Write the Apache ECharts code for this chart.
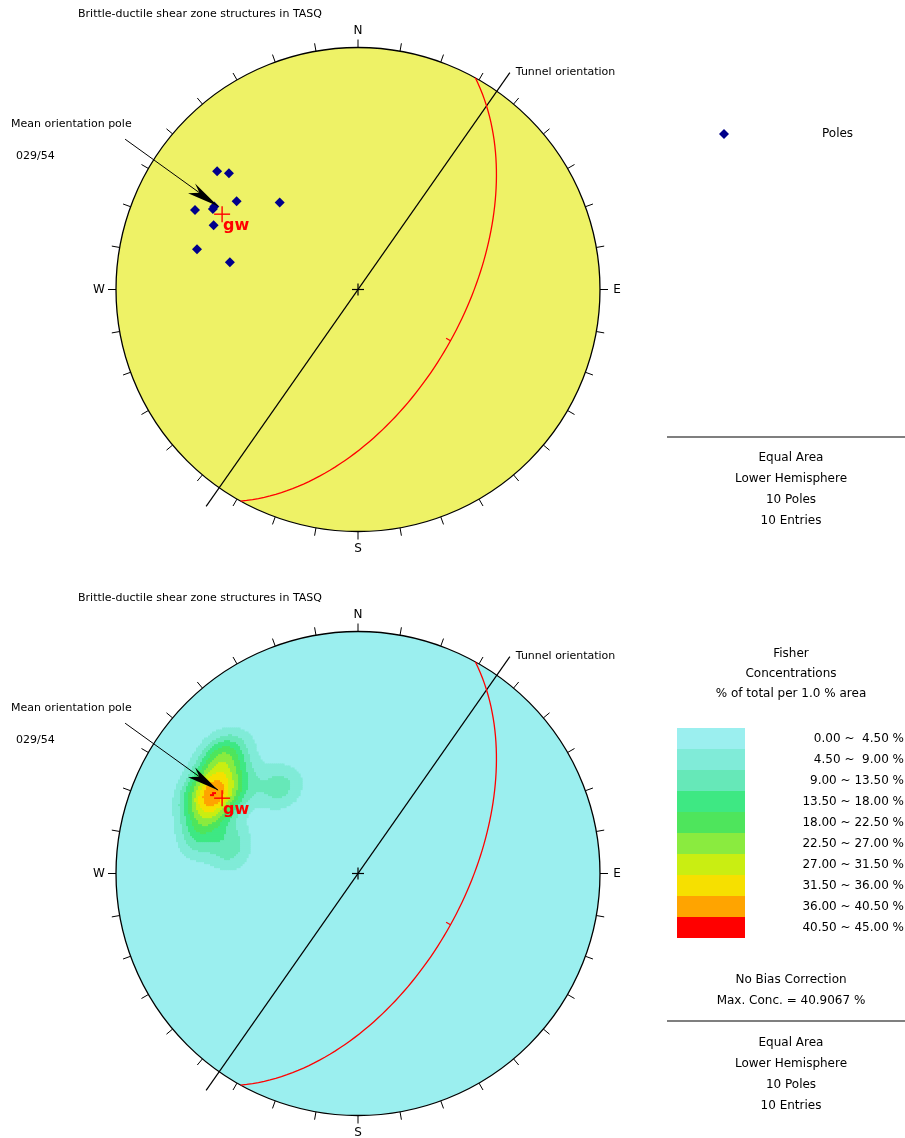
<!DOCTYPE html>
<html>
<head>
<meta charset="utf-8">
<script src="https://cdn.jsdelivr.net/npm/echarts@6/dist/echarts.min.js"></script>
<style>
html, body { margin: 0; padding: 0; background: #fff; }
#chart { width: 905px; height: 1138px; }
</style>
</head>
<body>
<div id="chart"></div>
<script>
// pole orientations, trend / plunge in degrees
var poleTrend = [310, 312, 306, 318, 296, 299, 300, 294, 284, 282];
var polePlunge = [25, 29, 38, 50, 26, 32, 32, 35, 32, 45];
var meanPole = [299, 36];       // pole of the mean plane
var meanPlane = [29, 54];       // strike (right hand) / dip
var meanLabel = "029/54";
var tunnelTrend = 35;
var compassLabels = ["N", "E", "S", "W"];
var concBreaks = [0, 4.5, 9, 13.5, 18, 22.5, 27, 31.5, 36, 40.5, 45];
var concColors = ["#9befef", "#80ebd8", "#66e8b8", "#3ee883", "#4ee55c",
  "#8aeb3f", "#c9ee12", "#f6e000", "#ffa400", "#ff0000"];
var infoLines = ["Equal Area", "Lower Hemisphere", "10 Poles", "10 Entries"];
var fisherK = 110;

var D2R = Math.PI / 180;
var FONT = "DejaVu Sans";
var title = "Brittle-ductile shear zone structures in TASQ";

// equal area, lower hemisphere, unit radius
function project(trend, plunge) {
  var r = Math.SQRT2 * Math.sin((90 - plunge) * D2R / 2);
  return [r * Math.sin(trend * D2R), r * Math.cos(trend * D2R)];
}
function vec(trend, plunge) {
  var t = trend * D2R, p = plunge * D2R;
  return [Math.cos(p) * Math.cos(t), Math.cos(p) * Math.sin(t), Math.sin(p)];
}
function greatCircle(strike, dip) {
  var s = strike * D2R, d = dip * D2R, dd = s + Math.PI / 2;
  var pts = [];
  for (var a = 0; a <= 180; a += 2) {
    var ca = Math.cos(a * D2R), sa = Math.sin(a * D2R);
    var n = ca * Math.cos(s) + sa * Math.cos(d) * Math.cos(dd);
    var e = ca * Math.sin(s) + sa * Math.cos(d) * Math.sin(dd);
    var dn = Math.min(1, sa * Math.sin(d));
    pts.push(project(Math.atan2(e, n) / D2R, Math.asin(dn) / D2R));
  }
  return pts;
}

var poleXY = poleTrend.map(function (t, i) { return project(t, polePlunge[i]); });
var poleVec = poleTrend.map(function (t, i) { return vec(t, polePlunge[i]); });
var meanXY = project(meanPole[0], meanPole[1]);
var gcXY = greatCircle(meanPlane[0], meanPlane[1]);

// fisher density, % of total per 1% area
var cell = 2 / 242;
var density = [];
for (var y = -1 + cell / 2; y < 1; y += cell) {
  for (var x = -1 + cell / 2; x < 1; x += cell) {
    var r = Math.sqrt(x * x + y * y);
    if (r > 1) continue;
    var pl = 90 - 2 * Math.asin(r / Math.SQRT2) / D2R;
    var v = vec(Math.atan2(x, y) / D2R, pl);
    var sum = 0;
    for (var i = 0; i < poleVec.length; i++) {
      var c = Math.abs(v[0] * poleVec[i][0] + v[1] * poleVec[i][1] + v[2] * poleVec[i][2]);
      sum += Math.exp(fisherK * (c - 1));
    }
    var val = fisherK / poleVec.length * sum;
    if (val >= concBreaks[1]) density.push([x, y, Math.min(val, 44.9)]);
  }
}

var tickAz = [];
for (var a = 0; a < 360; a += 10) tickAz.push(a);

function netSeries(g, fill) {
  return [
    {
      type: "custom", xAxisIndex: g, yAxisIndex: g, z: 1, silent: true,
      data: [[0, 0]],
      renderItem: function (params, api) {
        var c = api.coord([0, 0]);
        var r = api.size([1, 1])[0];
        return { type: "circle", shape: { cx: c[0], cy: c[1], r: r },
          style: { fill: fill, stroke: "#000", lineWidth: 1.3 } };
      }
    },
    {
      type: "custom", xAxisIndex: g, yAxisIndex: g, z: 5, silent: true,
      data: tickAz,
      renderItem: function (params, api) {
        var az = api.value(0) * D2R;
        var p = api.coord([Math.sin(az), Math.cos(az)]);
        var ux = Math.sin(az), uy = -Math.cos(az);
        var kids = [{ type: "line", shape: { x1: p[0], y1: p[1], x2: p[0] + ux * 8, y2: p[1] + uy * 8 },
          style: { stroke: "#000", lineWidth: 1 } }];
        if (api.value(0) % 90 === 0) {
          kids.push({ type: "text", style: { text: compassLabels[api.value(0) / 90],
            x: p[0] + ux * 17, y: p[1] + uy * 17, align: "center", verticalAlign: "middle",
            font: "12px " + FONT, fill: "#000" } });
        }
        return { type: "group", children: kids };
      }
    },
    {
      type: "custom", xAxisIndex: g, yAxisIndex: g, z: 6, silent: true,
      data: [[tunnelTrend]],
      renderItem: function (params, api) {
        var t = api.value(0) * D2R, L = 1.094;
        var a = api.coord([L * Math.sin(t), L * Math.cos(t)]);
        var b = api.coord([-L * Math.sin(t), -L * Math.cos(t)]);
        var c = api.coord([0, 0]);
        return { type: "group", children: [
          { type: "line", shape: { x1: a[0], y1: a[1], x2: b[0], y2: b[1] }, style: { stroke: "#000", lineWidth: 1.2 } },
          { type: "line", shape: { x1: c[0] - 6, y1: c[1], x2: c[0] + 6, y2: c[1] }, style: { stroke: "#000", lineWidth: 1.2 } },
          { type: "line", shape: { x1: c[0], y1: c[1] - 6, x2: c[0], y2: c[1] + 6 }, style: { stroke: "#000", lineWidth: 1.2 } },
          { type: "text", style: { text: "Tunnel orientation", x: a[0] + 6, y: a[1], verticalAlign: "middle",
            font: "11px " + FONT, fill: "#000" } }
        ] };
      }
    },
    {
      type: "custom", xAxisIndex: g, yAxisIndex: g, z: 6, silent: true,
      data: [meanPlane],
      renderItem: function (params, api) {
        var pts = gcXY.map(function (q) { return api.coord(q); });
        var dd = (api.value(0) + 90) * D2R;
        var rr = Math.SQRT2 * Math.sin((90 - api.value(1)) * D2R / 2);
        var apex = api.coord([rr * Math.sin(dd), rr * Math.cos(dd)]);
        return { type: "group", children: [
          { type: "polyline", shape: { points: pts }, style: { stroke: "#ff0000", lineWidth: 1.3, fill: null } },
          { type: "line", shape: { x1: apex[0], y1: apex[1], x2: apex[0] - 5 * Math.sin(dd), y2: apex[1] + 5 * Math.cos(dd) },
            style: { stroke: "#ff0000", lineWidth: 1.2 } }
        ] };
      }
    },
    {
      type: "custom", xAxisIndex: g, yAxisIndex: g, z: 8, silent: true,
      data: [meanXY],
      renderItem: function (params, api) {
        var p = api.coord([api.value(0), api.value(1)]);
        var tip = [p[0] - 4, p[1] - 8], st = [p[0] - 97, p[1] - 75];
        var dx = tip[0] - st[0], dy = tip[1] - st[1], len = Math.sqrt(dx * dx + dy * dy);
        var ux = dx / len, uy = dy / len, nx = -uy, ny = ux;
        var bx = tip[0] - 32 * ux, by = tip[1] - 32 * uy;
        return { type: "group", children: [
          { type: "line", shape: { x1: st[0], y1: st[1], x2: tip[0], y2: tip[1] }, style: { stroke: "#000", lineWidth: 1 } },
          { type: "polygon", shape: { points: [tip, [bx + 7 * nx, by + 7 * ny], [bx + 9 * ux, by + 9 * uy], [bx - 5 * nx, by - 5 * ny]] },
            style: { fill: "#000" } },
          { type: "line", shape: { x1: p[0] - 8, y1: p[1], x2: p[0] + 8, y2: p[1] }, style: { stroke: "#ff0000", lineWidth: 1.4 } },
          { type: "line", shape: { x1: p[0], y1: p[1] - 8, x2: p[0], y2: p[1] + 8 }, style: { stroke: "#ff0000", lineWidth: 1.4 } },
          { type: "text", style: { text: "gw", x: p[0] + 1, y: p[1] + 12, verticalAlign: "middle",
            font: "bold 16px " + FONT, fill: "#ff0000" } }
        ] };
      }
    }
  ];
}

var series = [];
series = series.concat(netSeries(0, "#eef266"));
series = series.concat(netSeries(1, "#9befef"));
series.push({
  name: "Poles", type: "scatter", xAxisIndex: 0, yAxisIndex: 0, z: 7,
  symbol: "diamond", symbolSize: 10, itemStyle: { color: "#00008b", opacity: 1 },
  data: poleXY
});
series.push({
  name: "density", type: "custom", xAxisIndex: 1, yAxisIndex: 1, z: 2, silent: true,
  data: density,
  renderItem: function (params, api) {
    var p = api.coord([api.value(0) - cell / 2, api.value(1) + cell / 2]);
    var s = api.size([cell, cell]);
    return { type: "rect", shape: { x: p[0], y: p[1], width: s[0] + 0.6, height: s[1] + 0.6 },
      style: { fill: api.visual("color") } };
  }
});
var densityIndex = series.length - 1;

var axisHidden = { type: "value", min: -1, max: 1, show: false };

var graphics = [];
function txt(t, x, y, opt) {
  opt = opt || {};
  graphics.push({ type: "text", x: x, y: y, silent: true, style: { text: t,
    font: (opt.size || 12) + "px " + FONT, fill: "#000",
    align: opt.align || "left", verticalAlign: "middle" } });
}
function hline(y) {
  graphics.push({ type: "line", silent: true, shape: { x1: 667, y1: y, x2: 905, y2: y },
    style: { stroke: "#000", lineWidth: 1.2 } });
}
[0, 584].forEach(function (off) {
  txt(title, 78, 14 + off, { size: 11 });
  txt("Mean orientation pole", 11, 124 + off, { size: 11 });
  txt(meanLabel, 16, 156 + off, { size: 11 });
});
hline(437);
infoLines.forEach(function (s, i) { txt(s, 791, 458 + 21 * i, { align: "center" }); });
txt("Fisher", 791, 654, { align: "center" });
txt("Concentrations", 791, 674, { align: "center" });
txt("% of total per 1.0 % area", 791, 694, { align: "center" });
for (var k = 0; k < concColors.length; k++) {
  var hi = concBreaks[k + 1].toFixed(2);
  if (hi.length < 5) hi = " " + hi;
  txt(concBreaks[k].toFixed(2) + " ~ " + hi + " %", 904, 739 + 21 * k, { align: "right" });
}
txt("No Bias Correction", 791, 980, { align: "center" });
txt("Max. Conc. = 40.9067 %", 791, 1001, { align: "center" });
hline(1021);
infoLines.forEach(function (s, i) { txt(s, 791, 1043 + 21 * i, { align: "center" }); });

var myChart = echarts.init(document.getElementById("chart"));
var option = {
  animation: false,
  grid: [
    { left: 116, top: 47.5, width: 484, height: 484 },
    { left: 116, top: 631.5, width: 484, height: 484 }
  ],
  xAxis: [Object.assign({ gridIndex: 0 }, axisHidden), Object.assign({ gridIndex: 1 }, axisHidden)],
  yAxis: [Object.assign({ gridIndex: 0 }, axisHidden), Object.assign({ gridIndex: 1 }, axisHidden)],
  legend: {
    data: [{ name: "Poles", icon: "diamond" }],
    left: 719, top: 128, itemWidth: 10, itemHeight: 10, padding: 0,
    selectedMode: false,
    textStyle: { fontFamily: FONT, fontSize: 12, color: "#000", padding: [0, 0, 0, 88] }
  },
  visualMap: {
    type: "piecewise", seriesIndex: densityIndex, dimension: 2,
    pieces: concColors.map(function (c, i) {
      return { gte: concBreaks[i], lt: concBreaks[i + 1], color: c };
    }),
    orient: "vertical", inverse: true, left: 677, top: 728, padding: 0,
    itemWidth: 68, itemHeight: 21, itemGap: 0, itemSymbol: "rect",
    showLabel: false, selectedMode: false
  },
  graphic: graphics,
  series: series
};
myChart.setOption(option);
window.addEventListener("resize", function () {
  myChart.resize();
});
</script>
</body>
</html>
